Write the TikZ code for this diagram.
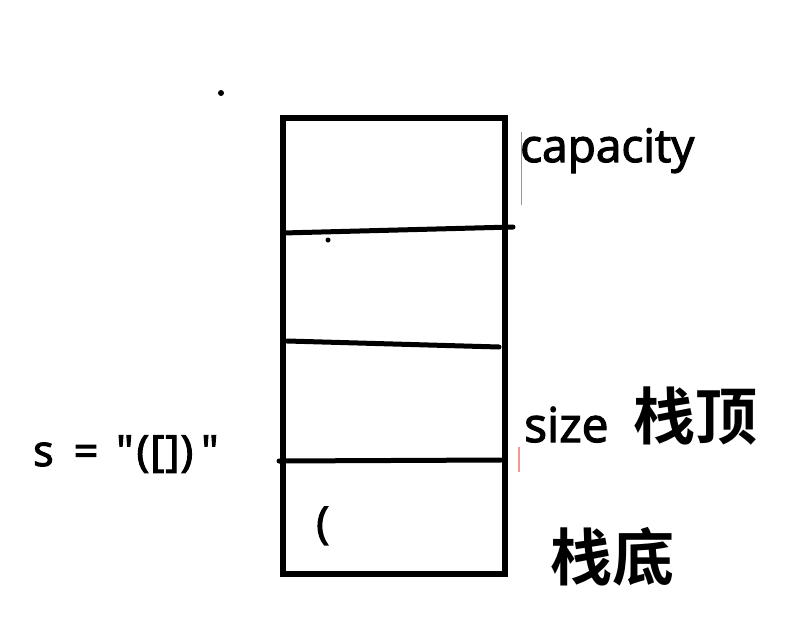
\documentclass[tikz,border=0pt]{standalone}
\usepackage{fontspec}
\setmainfont{Open Sans}
\newfontfamily\medfont{Open Sans}[FakeBold=2.5]
\newfontfamily\cjkbold[BoldFont={Noto Sans CJK SC Bold}]{Noto Sans CJK SC}
\definecolor{caretgray}{RGB}{150,150,150}
\definecolor{caretpink}{RGB}{242,150,150}
\tikzset{
  stroke/.style={line width=5pt, line cap=round, black},
  lbl/.style={inner sep=0pt, anchor=base west, font=\fontsize{45}{50}\selectfont\medfont},
  cjk/.style={inner sep=0pt, anchor=center, font=\fontsize{62}{66}\selectfont\cjkbold\bfseries},
  dotmark/.style={fill=black, circle, inner sep=0pt, minimum size=6pt}
}
\begin{document}
\begin{tikzpicture}[x=1pt,y=-1pt]
\useasboundingbox (0,0) rectangle (793,621);
% stack box
\coordinate (tl) at (283,118);
\coordinate (br) at (505,574);
\draw[line width=5.5pt] (tl) rectangle (br);
% separators
\coordinate (l1a) at (283,233);
\coordinate (l1b) at (513,227);
\coordinate (l2a) at (287,341);
\coordinate (l2b) at (499,347);
\coordinate (l3a) at (279,461);
\coordinate (l3b) at (501,460);
\draw[stroke] (l1a) -- (l1b);
\draw[stroke] (l2a) -- (l2b);
\draw[stroke] (l3a) -- (l3b);
% carets
\coordinate (g1) at (521.5,132);
\coordinate (g2) at (521.5,205);
\draw[caretgray, line width=1pt] (g1) -- (g2);
\coordinate (p1) at (519,447);
\coordinate (p2) at (519,472);
\draw[caretpink, line width=2.5pt] (p1) -- (p2);
% dots
\node[dotmark] (d1) at (221,93) {};
\node[dotmark, minimum size=5pt] (d2) at (328,240) {};
% labels
\node[lbl, font=\fontsize{46}{50}\selectfont\medfont] (cap) at (520,162) {capacity};
\node[lbl, font=\fontsize{48}{52}\selectfont\medfont] (size) at (524,442) {size};
\node[cjk] (top) at (695,416) {栈顶};
\node[cjk] (bot) at (612,557) {栈底};
\node[lbl, font=\fontsize{43}{46}\selectfont\medfont] (s) at (33,466) {s\hspace{20pt}=\hspace{18pt}\char34\hspace{3pt}(\hspace{1pt}[\hspace{1pt}]\hspace{1pt})\hspace{8pt}\char34};
\node[lbl, font=\fontsize{44}{46}\selectfont\medfont] (paren) at (316,538) {(};
\end{tikzpicture}
\end{document}
